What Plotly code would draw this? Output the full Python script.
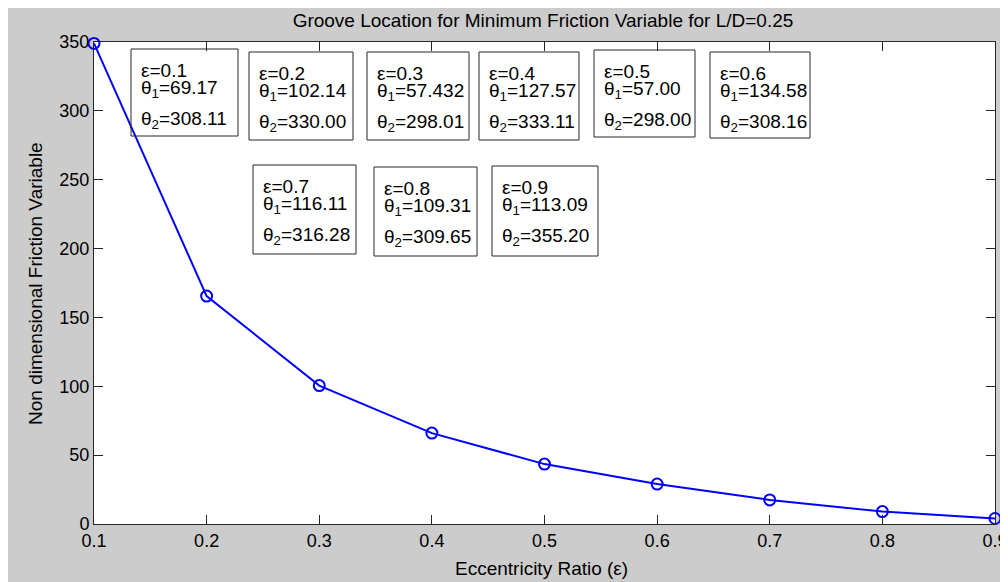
import plotly.graph_objects as go

# ---------------- data ----------------
ecc = [0.1, 0.2, 0.3, 0.4, 0.5, 0.6, 0.7, 0.8, 0.9]
friction = [349, 165.5, 100.5, 66, 43.5, 29, 17.5, 9, 4]
eps_labels = ["0.1", "0.2", "0.3", "0.4", "0.5", "0.6", "0.7", "0.8", "0.9"]
theta1 = ["69.17", "102.14", "57.432", "127.57", "57.00", "134.58", "116.11", "109.31", "113.09"]
theta2 = ["308.11", "330.00", "298.01", "333.11", "298.00", "308.16", "316.28", "309.65", "355.20"]
x_ticks = [0.1, 0.2, 0.3, 0.4, 0.5, 0.6, 0.7, 0.8, 0.9]
y_ticks = [0, 50, 100, 150, 200, 250, 300, 350]

# ---------------- layout geometry (page pixels; page body margin = 8) ----------------
OFF = 8
W, H = 1000, 574
L, R, T, B = 94 - OFF, 995 - OFF, 42 - OFF, 524 - OFF
BG = "#cccccc"
AX = "#262626"
FONT = "Liberation Sans, Arial, sans-serif"

# text-box rectangles (left, top, right, bottom) in page pixels
boxes = [
    (131, 49, 238, 136),
    (249, 52, 353, 140),
    (367, 52, 469, 140),
    (479, 52, 579, 140),
    (594, 50, 695, 137),
    (710, 52, 810, 138),
    (253, 165, 356, 254),
    (374, 167, 477, 256),
    (492, 166, 598, 256),
]


def px(x):
    return (x - OFF - L) / (R - L)


def py(y):
    return (B - (y - OFF)) / (B - T)


fig = go.Figure()
fig.add_trace(go.Scatter(
    x=ecc, y=friction, mode="lines+markers",
    line=dict(color="#0000ff", width=2),
    marker=dict(symbol="circle-open", size=11, color="#0000ff",
                line=dict(width=2, color="#0000ff")),
    showlegend=False, hoverinfo="x+y", cliponaxis=False,
))

shapes = []
annotations = []
FS = 19
for i, (bl, bt, br, bb) in enumerate(boxes):
    shapes.append(dict(type="rect", xref="paper", yref="paper",
                       x0=px(bl), x1=px(br), y0=py(bb), y1=py(bt),
                       line=dict(color=AX, width=1), fillcolor="rgba(0,0,0,0)", layer="above"))
    lines = [
        (f"ε={eps_labels[i]}", 27),
        (f"θ<sub>1</sub>={theta1[i]}", 46),
        (f"θ<sub>2</sub>={theta2[i]}", 77),
    ]
    for txt, off in lines:
        annotations.append(dict(
            xref="paper", yref="paper", x=px(bl + 8), y=py(bt + off - 6),
            xanchor="left", yanchor="middle", text=txt, showarrow=False,
            font=dict(family=FONT, size=FS, color="#000000"),
        ))

# axis titles placed as annotations for exact positioning
annotations.append(dict(
    xref="paper", yref="paper", x=px(541), y=py(568), xanchor="center", yanchor="middle",
    text="Eccentricity Ratio (ε)", showarrow=False,
    font=dict(family=FONT, size=19, color="#000000")))
annotations.append(dict(
    xref="paper", yref="paper", x=px(35), y=py(284), xanchor="center", yanchor="middle",
    text="Non dimensional Friction Variable", showarrow=False, textangle=-90,
    font=dict(family=FONT, size=19, color="#000000")))

fig.update_layout(
    width=W, height=H,
    margin=dict(l=L, r=W - R, t=T, b=H - B, pad=0, autoexpand=False),
    paper_bgcolor=BG, plot_bgcolor="white",
    font=dict(family=FONT, size=18, color="#000000"),
    title=dict(text="Groove Location for Minimum Friction Variable for L/D=0.25",
               x=px(543), xref="paper", y=1 - (20 - OFF) / H, yref="container",
               xanchor="center", yanchor="middle", automargin=False,
               font=dict(family=FONT, size=19, color="#000000")),
    shapes=shapes, annotations=annotations,
)
fig.update_xaxes(
    range=[0.1, 0.9], tickvals=x_ticks, ticktext=[f"{v:g}" for v in x_ticks],
    ticks="inside", ticklen=9, tickcolor=AX, tickwidth=1,
    showline=True, linecolor=AX, linewidth=1, mirror="ticks",
    showgrid=False, zeroline=False, automargin=False,
    tickfont=dict(family=FONT, size=18, color="#000000"),
)
fig.update_yaxes(
    range=[0, 350], tickvals=y_ticks,
    ticks="inside", ticklen=9, tickcolor=AX, tickwidth=1,
    showline=True, linecolor=AX, linewidth=1, mirror="ticks",
    showgrid=False, zeroline=False, automargin=False,
    tickfont=dict(family=FONT, size=18, color="#000000"),
)

fig.write_html("out.html")
